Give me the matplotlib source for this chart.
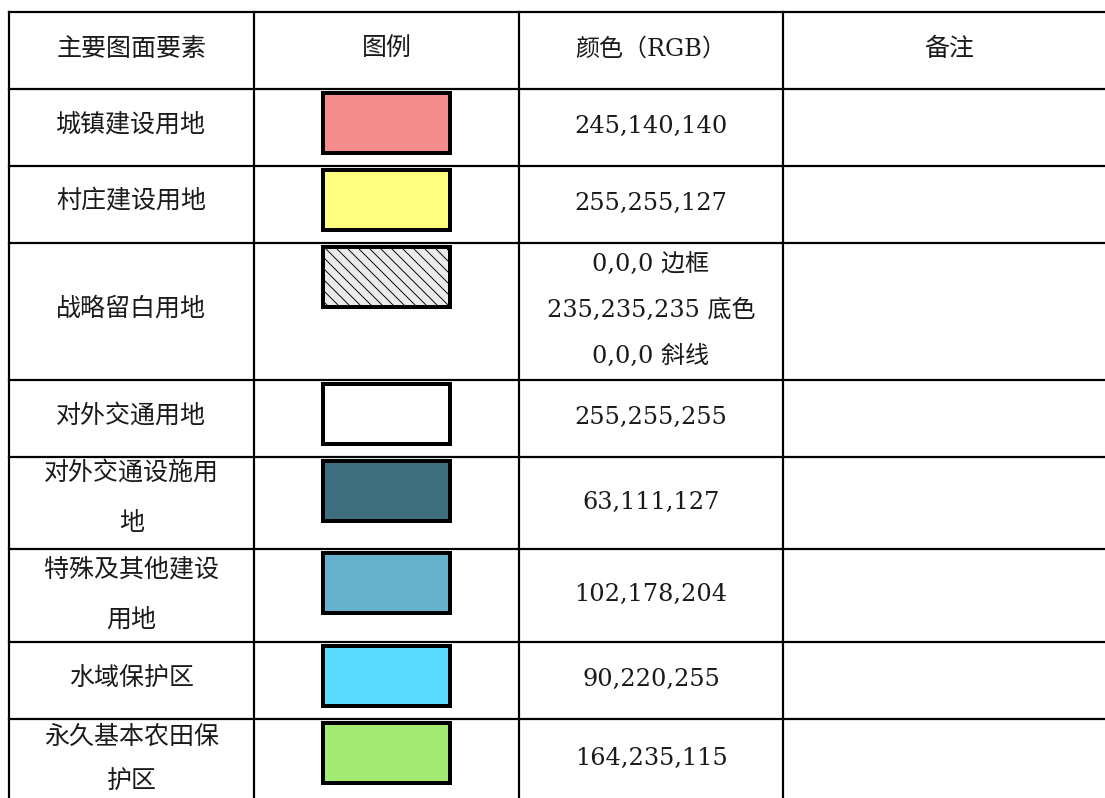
import matplotlib
matplotlib.use('Agg')
import matplotlib.pyplot as plt
from matplotlib.patches import Rectangle

# ---------------- data ----------------
headers = ["主要图面要素", "图例", "颜色（RGB）", "备注"]
elements = ["城镇建设用地", "村庄建设用地", "战略留白用地", "对外交通用地",
            "对外交通设施用\n地", "特殊及其他建设\n用地", "水域保护区",
            "永久基本农田保\n护区"]
fill_rgb = [(245, 140, 140), (255, 255, 127), (235, 235, 235), (255, 255, 255),
            (63, 111, 127), (102, 178, 204), (90, 220, 255), (164, 235, 115)]
hatched = [False, False, True, False, False, False, False, False]
rgb_labels = ["245,140,140", "255,255,127",
              "0,0,0 边框\n235,235,235 底色\n0,0,0 斜线",
              "255,255,255", "63,111,127", "102,178,204", "90,220,255",
              "164,235,115"]
notes = ["", "", "", "", "", "", "", ""]

# ---------------- layout ----------------
DPI = 66.0
W, H = 1105, 798


def pt(px):
    return px * 72.0 / DPI


col_edges = [8.5, 254, 519, 783, 1115]
row_edges = [12, 89, 166, 243, 380, 457, 549, 642, 719, 800]
name_dy = [-3, -3, -3, -3, -5, -1, -2, 0]
name_spacing = [2.23, 2.23, 2.23, 2.23, 2.23, 2.23, 2.23, 1.92]

fig = plt.figure(figsize=(W / DPI, H / DPI), dpi=DPI)
fig.patch.set_facecolor('white')
ax = fig.add_axes([0, 0, 1, 1])
ax.set_xlim(0, W)
ax.set_ylim(H, 0)
ax.axis('off')

# grid lines
ax.hlines(row_edges, col_edges[0], col_edges[-1], colors='black',
          linewidth=pt(2.2), capstyle='projecting')
ax.vlines(col_edges, row_edges[0], row_edges[-1], colors='black',
          linewidth=pt(2.2), capstyle='projecting')

cjk = ['Noto Sans CJK SC']
mixed = ['DejaVu Serif', 'Noto Sans CJK SC']
fs = pt(25)
fs_num = pt(24)
tcol = '#1a1a1a'

col_cx = [(col_edges[i] + col_edges[i + 1]) / 2 for i in range(4)]

# header
for i, h in enumerate(headers):
    cy = (row_edges[0] + row_edges[1]) / 2
    ax.text(col_cx[i], cy - 1, h, ha='center', va='center',
            fontsize=fs if i != 2 else fs_num,
            family=mixed, color=tcol)

for r in range(len(elements)):
    top, bot = row_edges[r + 1], row_edges[r + 2]
    cy = (top + bot) / 2
    ax.text(col_cx[0], cy + name_dy[r], elements[r], ha='center',
            va='center', multialignment='center', fontsize=fs, family=cjk,
            color=tcol, linespacing=name_spacing[r])
    ax.text(col_cx[2], cy - 1, rgb_labels[r], ha='center', va='center',
            multialignment='center', fontsize=fs_num, family=mixed,
            color=tcol, linespacing=2.25)
    ax.text(col_cx[3], cy, notes[r], ha='center', va='center', fontsize=fs,
            family=cjk, color=tcol)
    # swatch
    sw, sh, lw = 131, 64, 4
    fc = tuple(v / 255 for v in fill_rgb[r])
    x0 = col_cx[1] - sw / 2 + lw / 2
    y0 = top + 2 + lw / 2
    rect = Rectangle((x0, y0), sw - lw, sh - lw, facecolor=fc,
                     edgecolor='black', linewidth=pt(lw),
                     hatch='\\\\' if hatched[r] else None)
    ax.add_patch(rect)

fig.savefig('out.png', dpi=DPI, facecolor='white')
